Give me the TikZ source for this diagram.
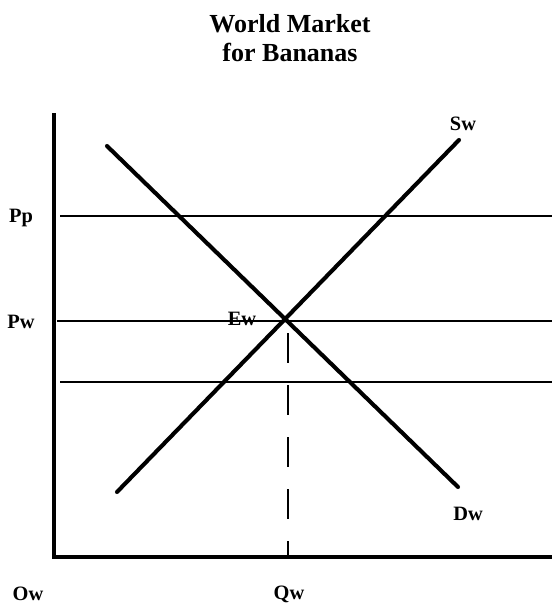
\documentclass[tikz,border=0pt]{standalone}
\usepackage{fontspec}
\setmainfont{Liberation Serif}
\usetikzlibrary{positioning}

\begin{document}
\begin{tikzpicture}[
  x=0.025cm, y=-0.025cm,
  lbl/.style={font=\fontsize{14.5}{16}\selectfont\bfseries, inner sep=0pt},
  curve/.style={line width=2.9pt, line cap=round},
  axis/.style={line width=3.4pt},
  price/.style={line width=1.1pt},
  guide/.style={line width=1.3pt, dash pattern=on 0.75cm off 0.55cm}
]
\useasboundingbox (0,0) rectangle (552,605);

% title
\node[font=\fontsize{18.5}{21}\selectfont\bfseries, align=center, inner sep=0pt] (title) at (290,38) {World Market\\for Bananas};

% axes
\coordinate (top) at (54,113);
\coordinate (origin) at (54,557);
\coordinate (right) at (552,557);
\draw[axis] (top) -- (origin) -- (right);

% price lines
\draw[price] (60,216) -- (552,216);
\draw[price] (57,321) -- (552,321);
\draw[price] (60,382) -- (552,382);

% demand and supply
\coordinate (dtop) at (107,146);
\coordinate (dbot) at (458,487);
\coordinate (sbot) at (117,492);
\coordinate (stop) at (459,140);
\draw[curve] (dtop) -- (dbot);
\draw[curve] (sbot) -- (stop);

% equilibrium quantity
\coordinate (eq) at (288,333);
\coordinate (qaxis) at (288,555);
\draw[guide] (eq) -- (qaxis);

% labels
\node[lbl] (pp) at (21,218) {Pp};
\node[lbl] (pw) at (21,322) {Pw};
\node[lbl] (ew) at (242,319) {Ew};
\node[lbl] (sw) at (463,124) {Sw};
\node[lbl] (dw) at (468,514) {Dw};
\node[lbl] (ow) at (28,594) {Ow};
\node[lbl] (qw) at (289,594) {Qw};
\end{tikzpicture}
\end{document}
